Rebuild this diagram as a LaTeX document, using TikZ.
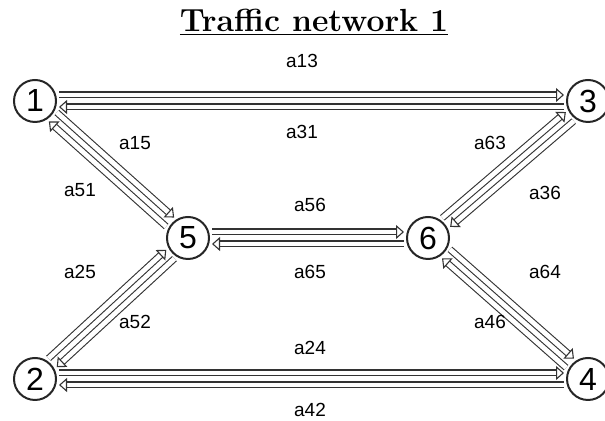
\documentclass[tikz,border=0pt]{standalone}
\usepackage{fontspec}
\newfontfamily\labelfont{Liberation Sans}
\usetikzlibrary{calc,arrows.meta}
\tikzset{
  junction/.style={circle, draw=black!85, line width=1pt, minimum size=21pt, inner sep=0pt, font=\labelfont\fontsize{16}{16}\selectfont},
  flow/.style={draw=black!80, line width=0.55pt, double=white, double distance=2.4pt, -{Triangle[open, length=4pt, width=7pt]}},
  linklabel/.style={font=\labelfont\fontsize{9.5}{11}\selectfont}
}
\newcommand\flow[2]{\draw[flow] ($(#1)!12pt!(#2)!3pt!90:(#2)$) -- ($(#2)!12pt!(#1)!3pt!-90:(#1)$);}
\begin{document}
\begin{tikzpicture}[x=0.5pt, y=0.5pt]
		\useasboundingbox (0, 0) rectangle (605, 421);
		
		%%%%% TITLE %%%%%
		\node (title) at (314, 399) {\fontsize{16}{18}\selectfont\bfseries\underline{Traffic network 1}};
		
		%%%%% JUNCTIONS %%%%%
		\node[junction] (n1) at (35, 320) {1};
		\node[junction] (n3) at (588, 320) {3};
		\node[junction] (n5) at (188, 183) {5};
		\node[junction] (n6) at (428, 183) {6};
		\node[junction] (n2) at (35, 42) {2};
		\node[junction] (n4) at (588, 42) {4};
		
		%%%%% LINKS %%%%%
		\flow{n1}{n3} \flow{n3}{n1}
		\flow{n1}{n5} \flow{n5}{n1}
		\flow{n6}{n3} \flow{n3}{n6}
		\flow{n5}{n6} \flow{n6}{n5}
		\flow{n2}{n5} \flow{n5}{n2}
		\flow{n6}{n4} \flow{n4}{n6}
		\flow{n2}{n4} \flow{n4}{n2}
		
		%%%%% LABELS %%%%%
		\node[linklabel] (l13) at (302, 360) {a13};
		\node[linklabel] (l31) at (302, 289) {a31};
		\node[linklabel] (l15) at (135, 278) {a15};
		\node[linklabel] (l51) at (80, 231) {a51};
		\node[linklabel] (l63) at (490, 278) {a63};
		\node[linklabel] (l36) at (545, 228) {a36};
		\node[linklabel] (l56) at (310, 216) {a56};
		\node[linklabel] (l65) at (310, 149) {a65};
		\node[linklabel] (l25) at (80, 149) {a25};
		\node[linklabel] (l52) at (135, 99) {a52};
		\node[linklabel] (l64) at (545, 149) {a64};
		\node[linklabel] (l46) at (490, 99) {a46};
		\node[linklabel] (l24) at (310, 73) {a24};
		\node[linklabel] (l42) at (310, 11) {a42};
	\end{tikzpicture}
\end{document}
